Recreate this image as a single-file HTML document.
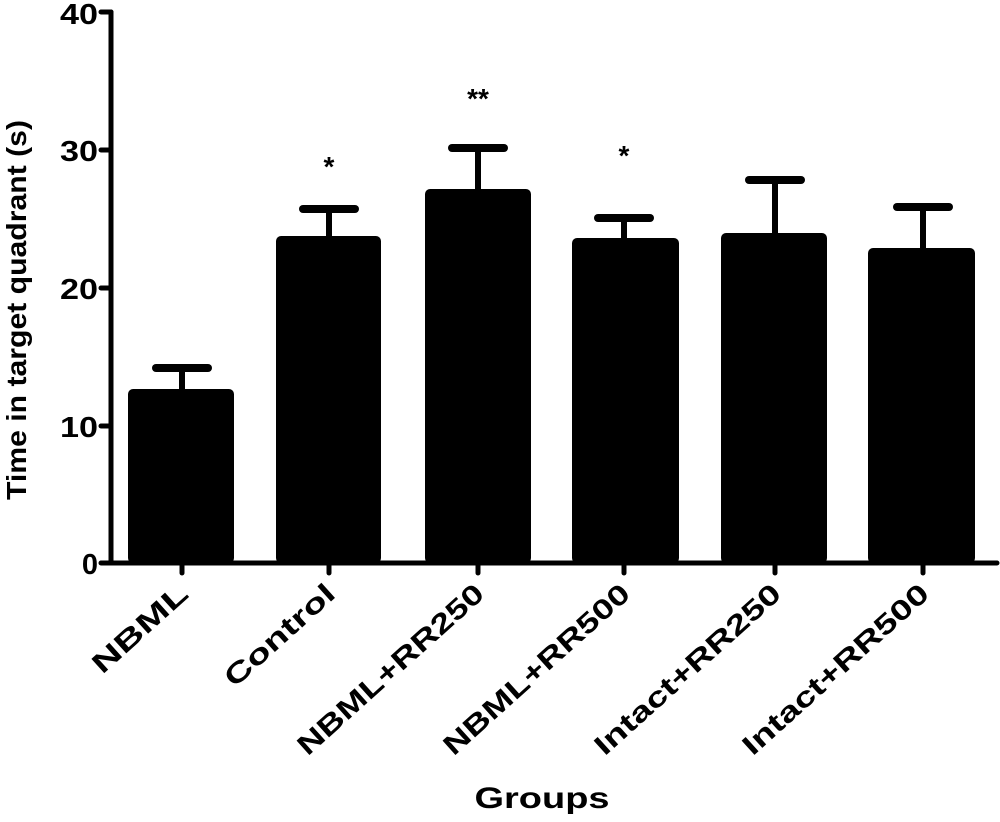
<!DOCTYPE html>
<html><head><meta charset="utf-8"><style>body{margin:0;background:#fff}</style></head><body>
<svg width="1000" height="817" xmlns="http://www.w3.org/2000/svg" font-family="Liberation Sans, Arial, sans-serif" font-weight="bold">
<g fill="#000">
<rect x="128" y="389" width="106" height="174" rx="5"/>
<rect x="276" y="236" width="105" height="327" rx="5"/>
<rect x="425" y="189" width="106" height="374" rx="5"/>
<rect x="572" y="238" width="107" height="325" rx="5"/>
<rect x="721" y="233" width="106" height="330" rx="5"/>
<rect x="868" y="248" width="107" height="315" rx="5"/>
</g>
<g stroke="#000" stroke-width="6" stroke-linecap="round">
<line x1="182" y1="389" x2="182" y2="368"/><line x1="156" y1="368" x2="208" y2="368" stroke-width="8"/>
<line x1="329" y1="236" x2="329" y2="209"/><line x1="303" y1="209" x2="355" y2="209" stroke-width="8"/>
<line x1="478" y1="189" x2="478" y2="148"/><line x1="452" y1="148" x2="504" y2="148" stroke-width="8"/>
<line x1="624" y1="238" x2="624" y2="218"/><line x1="598" y1="218" x2="650" y2="218" stroke-width="8"/>
<line x1="775" y1="233" x2="775" y2="180"/><line x1="749" y1="180" x2="801" y2="180" stroke-width="8"/>
<line x1="923" y1="248" x2="923" y2="207"/><line x1="897" y1="207" x2="949" y2="207" stroke-width="8"/>
</g>
<g stroke="#000" stroke-width="5" stroke-linecap="round">
<line x1="111" y1="12" x2="111" y2="563"/>
<line x1="108" y1="563" x2="997" y2="563"/>
<line x1="101" y1="12" x2="111" y2="12"/><line x1="101" y1="150" x2="111" y2="150"/><line x1="101" y1="288" x2="111" y2="288"/><line x1="101" y1="426" x2="111" y2="426"/><line x1="101" y1="563" x2="111" y2="563"/>
<line x1="182" y1="563" x2="182" y2="573"/><line x1="329" y1="563" x2="329" y2="573"/><line x1="478" y1="563" x2="478" y2="573"/><line x1="624" y1="563" x2="624" y2="573"/><line x1="775" y1="563" x2="775" y2="573"/><line x1="923" y1="563" x2="923" y2="573"/>
</g>
<g font-size="29" text-anchor="end">
<text x="98" y="24" textLength="38" lengthAdjust="spacingAndGlyphs">40</text><text x="98" y="161" textLength="38" lengthAdjust="spacingAndGlyphs">30</text><text x="98" y="299" textLength="38" lengthAdjust="spacingAndGlyphs">20</text><text x="98" y="437" textLength="38" lengthAdjust="spacingAndGlyphs">10</text><text x="98" y="574">0</text>
</g>
<g font-size="28" text-anchor="middle">
<text x="329" y="176">*</text><text x="478" y="108">**</text><text x="624" y="165">*</text>
</g>
<text transform="translate(26,310) rotate(-90)" font-size="28" text-anchor="middle" textLength="380" lengthAdjust="spacingAndGlyphs">Time in target quadrant (s)</text>
<g font-size="28" text-anchor="end">
<text transform="translate(190,596) rotate(-42)" textLength="118" lengthAdjust="spacingAndGlyphs">NBML</text>
<text transform="translate(337,596) rotate(-42)" textLength="138" lengthAdjust="spacingAndGlyphs">Control</text>
<text transform="translate(486,596) rotate(-42)" textLength="240" lengthAdjust="spacingAndGlyphs">NBML+RR250</text>
<text transform="translate(632,596) rotate(-42)" textLength="240" lengthAdjust="spacingAndGlyphs">NBML+RR500</text>
<text transform="translate(783,596) rotate(-42)" textLength="240" lengthAdjust="spacingAndGlyphs">Intact+RR250</text>
<text transform="translate(931,596) rotate(-42)" textLength="240" lengthAdjust="spacingAndGlyphs">Intact+RR500</text>
</g>
<text x="542" y="808" font-size="30" text-anchor="middle" textLength="135" lengthAdjust="spacingAndGlyphs">Groups</text>
</svg>
</body></html>
